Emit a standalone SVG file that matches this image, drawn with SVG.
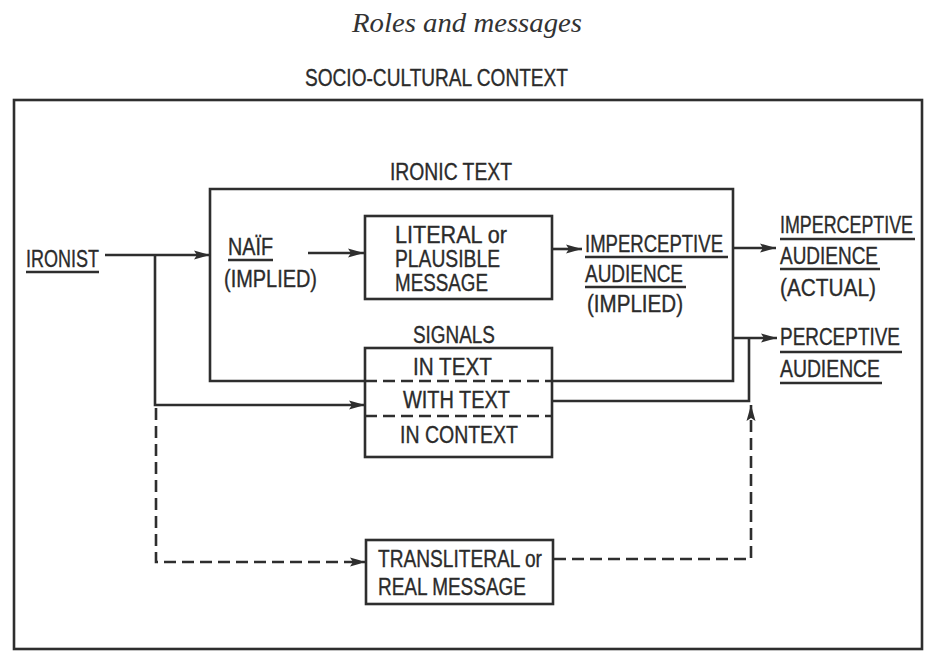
<svg xmlns="http://www.w3.org/2000/svg" width="933" height="666" viewBox="0 0 933 666">
<style>
.t{font-family:"Liberation Sans",Arial,sans-serif;font-size:23px;fill:#2b2b2b;stroke:#2b2b2b;stroke-width:0.35}
.title{font-family:"Liberation Serif","Times New Roman",serif;font-style:italic;font-size:28px;fill:#333}
.box{fill:none;stroke:#2e2e2e;stroke-width:2.6}
.ln{fill:none;stroke:#2e2e2e;stroke-width:2.6}
.dash{fill:none;stroke:#2e2e2e;stroke-width:2.6;stroke-dasharray:12 6}
.ul{stroke:#2e2e2e;stroke-width:2.4}
</style>
<defs>
<marker id="ah" viewBox="0 0 16 10" refX="16" refY="5" markerWidth="16" markerHeight="10" markerUnits="userSpaceOnUse" orient="auto">
<path d="M0,0.5 L16,5 L0,9.5 L3,5 Z" fill="#2e2e2e"/>
</marker>
</defs>
<rect width="933" height="666" fill="#ffffff"/>
<text class="title" x="352" y="32" textLength="230" lengthAdjust="spacingAndGlyphs">Roles and messages</text>

<g id="context">
<rect class="box" x="14" y="100" width="908" height="549"/>
<text class="t" x="305" y="86" textLength="263" lengthAdjust="spacingAndGlyphs">SOCIO-CULTURAL CONTEXT</text>
</g>

<g id="ironic-text">
<path class="box" d="M365,381 H210 V189 H733 V381 H552"/>
<text class="t" x="390" y="180" textLength="122" lengthAdjust="spacingAndGlyphs">IRONIC TEXT</text>
</g>

<g id="ironist">
<text class="t" x="26" y="267" textLength="73" lengthAdjust="spacingAndGlyphs">IRONIST</text>
<line class="ul" x1="26" y1="272" x2="99" y2="272"/>
</g>

<g id="naif">
<text class="t" x="228" y="255" textLength="45" lengthAdjust="spacingAndGlyphs">NAÏF</text>
<line class="ul" x1="228" y1="260" x2="273" y2="260"/>
<text class="t" x="224" y="287" textLength="93" lengthAdjust="spacingAndGlyphs">(IMPLIED)</text>
</g>

<g id="literal">
<rect class="box" x="365" y="216" width="187" height="83"/>
<text class="t" x="395" y="243" textLength="112" lengthAdjust="spacingAndGlyphs">LITERAL or</text>
<text class="t" x="395" y="267" textLength="105" lengthAdjust="spacingAndGlyphs">PLAUSIBLE</text>
<text class="t" x="395" y="291" textLength="93" lengthAdjust="spacingAndGlyphs">MESSAGE</text>
</g>

<g id="imperceptive-implied">
<text class="t" x="585" y="252" textLength="138" lengthAdjust="spacingAndGlyphs">IMPERCEPTIVE</text>
<line class="ul" x1="585" y1="257" x2="728" y2="257"/>
<text class="t" x="585" y="282" textLength="98" lengthAdjust="spacingAndGlyphs">AUDIENCE</text>
<line class="ul" x1="585" y1="287" x2="686" y2="287"/>
<text class="t" x="587" y="312" textLength="96" lengthAdjust="spacingAndGlyphs">(IMPLIED)</text>
</g>

<g id="imperceptive-actual">
<text class="t" x="780" y="233" textLength="133" lengthAdjust="spacingAndGlyphs">IMPERCEPTIVE</text>
<line class="ul" x1="780" y1="239" x2="915" y2="239"/>
<text class="t" x="780" y="264" textLength="98" lengthAdjust="spacingAndGlyphs">AUDIENCE</text>
<line class="ul" x1="780" y1="269" x2="880" y2="269"/>
<text class="t" x="780" y="296" textLength="96" lengthAdjust="spacingAndGlyphs">(ACTUAL)</text>
</g>

<g id="perceptive">
<text class="t" x="780" y="345" textLength="120" lengthAdjust="spacingAndGlyphs">PERCEPTIVE</text>
<line class="ul" x1="780" y1="352" x2="902" y2="352"/>
<text class="t" x="780" y="377" textLength="100" lengthAdjust="spacingAndGlyphs">AUDIENCE</text>
<line class="ul" x1="780" y1="383" x2="882" y2="383"/>
</g>

<g id="signals">
<text class="t" x="413" y="343" textLength="82" lengthAdjust="spacingAndGlyphs">SIGNALS</text>
<rect class="box" x="365" y="348" width="187" height="109"/>
<line class="dash" x1="365" y1="381" x2="552" y2="381"/>
<line class="dash" x1="365" y1="416" x2="552" y2="416"/>
<text class="t" x="413" y="375" textLength="79" lengthAdjust="spacingAndGlyphs">IN TEXT</text>
<text class="t" x="403" y="408" textLength="107" lengthAdjust="spacingAndGlyphs">WITH TEXT</text>
<text class="t" x="400" y="443" textLength="118" lengthAdjust="spacingAndGlyphs">IN CONTEXT</text>
</g>

<g id="transliteral">
<rect class="box" x="366" y="540" width="187" height="64"/>
<text class="t" x="378" y="567" textLength="164" lengthAdjust="spacingAndGlyphs">TRANSLITERAL or</text>
<text class="t" x="378" y="595" textLength="148" lengthAdjust="spacingAndGlyphs">REAL MESSAGE</text>
</g>

<g id="connectors">
<line class="ln" x1="105" y1="255" x2="210" y2="255" marker-end="url(#ah)"/>
<path class="ln" d="M155,255 V405 H365" marker-end="url(#ah)"/>
<path class="dash" d="M156,408 V562 H366" marker-end="url(#ah)"/>
<line class="ln" x1="308" y1="253" x2="364" y2="253" marker-end="url(#ah)"/>
<line class="ln" x1="552" y1="249" x2="582" y2="249" marker-end="url(#ah)"/>
<line class="ln" x1="733" y1="248" x2="776" y2="248" marker-end="url(#ah)"/>
<line class="ln" x1="733" y1="338" x2="777" y2="338" marker-end="url(#ah)"/>
<path class="ln" d="M552,401 H749 V338"/>
<path class="dash" d="M554,559 H751 V405" marker-end="url(#ah)"/>
</g>
</svg>
